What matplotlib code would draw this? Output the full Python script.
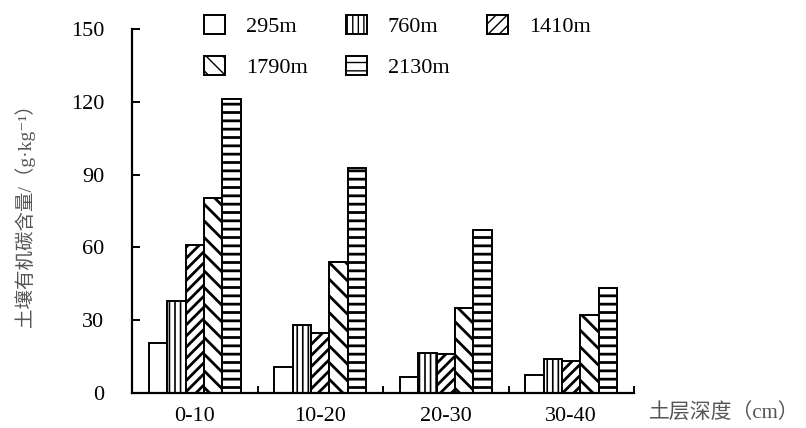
import matplotlib
matplotlib.use("Agg")
import matplotlib.pyplot as plt
import numpy as np

plt.rcParams["font.family"] = ["Liberation Serif", "Noto Sans CJK SC", "DejaVu Sans"]

depths = ["0-10", "10-20", "20-30", "30-40"]
altitudes = ["295m", "760m", "1410m", "1790m", "2130m"]
soc = {
    "295m": [20.5, 10.5, 6.5, 7.3],
    "760m": [38, 28, 16.5, 14],
    "1410m": [61, 24.5, 16, 13],
    "1790m": [80.5, 54, 35, 32],
    "2130m": [121, 92.5, 67, 43],
}
hatches = ["", "|||", "///", "\\\\", "--"]
hatch_lw = [1.0, 1.2, 2.0, 2.0, 2.0]

fig = plt.figure(figsize=(8.06, 4.28), dpi=100)
ax = fig.add_axes([0.1638, 0.0825, 0.6228, 0.8495])

x = np.arange(len(depths))
width = 0.147
handles = {}
for i, name in enumerate(altitudes):
    with plt.rc_context({"hatch.linewidth": hatch_lw[i]}):
        b = ax.bar(x + (i - 2) * width, soc[name], width, facecolor="white",
                   edgecolor="black", linewidth=1.4, hatch=hatches[i], label=name)
    handles[name] = b

ax.set_xlim(-0.5, 3.5)
ax.set_ylim(0, 150)
ax.set_yticks([0, 30, 60, 90, 120, 150])
ax.set_xticks(x)
ax.set_xticklabels(depths)
ax.set_xticks([0.5, 1.5, 2.5, 3.5], minor=True)
ax.tick_params(axis="x", which="major", length=0, labelsize=16, pad=10)
ax.tick_params(axis="x", which="minor", direction="in", length=5, width=1.4)
ax.tick_params(axis="y", direction="in", length=6, width=1.4, labelsize=16, pad=20)
for s in ["top", "right"]:
    ax.spines[s].set_visible(False)
for s in ["left", "bottom"]:
    ax.spines[s].set_linewidth(1.6)

ax.set_ylabel("土壤有机碳含量/（g·kg⁻¹）", fontsize=14, color="#555555", labelpad=26)
fig.text(0.805, 0.035, "土层深度（cm）", fontsize=15, color="#555555", ha="left", va="center")

# legend fills column by column, so reorder to get row-wise layout
order = ["295m", "1790m", "760m", "2130m", "1410m"]
fig.legend(handles=[handles[k] for k in order], labels=order, ncol=3, frameon=False,
           loc="upper left", bbox_to_anchor=(0.228, 1.012), fontsize=16,
           handlelength=0.95, handleheight=0.95, columnspacing=1.7,
           handletextpad=0.95, labelspacing=0.85)

fig.savefig("out.png", dpi=100)
